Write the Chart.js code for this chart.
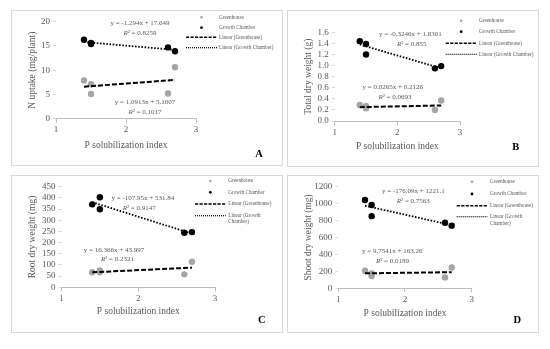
<!DOCTYPE html>
<html>
<head>
<meta charset="utf-8">
<script src="https://cdn.jsdelivr.net/npm/chart.js@4.4.1/dist/chart.umd.min.js"></script>
<style>
body { margin: 0; background: #fff; width: 550px; height: 349px; position: relative; overflow: hidden; }
.panel { position: absolute; border: 1px solid #d9d9d9; box-sizing: border-box; background: #fff; }
.panel canvas { position: absolute; left: 0; top: 0; }
</style>
</head>
<body>
<div class="panel" style="left:11px;top:10px;width:272px;height:156px"><canvas id="cA" width="270" height="154"></canvas></div>
<div class="panel" style="left:287px;top:10px;width:252px;height:157px"><canvas id="cB" width="250" height="155"></canvas></div>
<div class="panel" style="left:11px;top:175px;width:272px;height:158px"><canvas id="cC" width="270" height="156"></canvas></div>
<div class="panel" style="left:287px;top:175px;width:252px;height:158px"><canvas id="cD" width="250" height="156"></canvas></div>
<script>
// P solubilization index of the isolates (same for every panel)
const psiValues = [1.4, 1.5, 1.5, 2.6, 2.7]
const trendX = [1.4, 2.7]
const xTicks = [1, 2, 3]

// A - N uptake (mg/plant)
const nUptakeGreenhouse = [7.9, 7.1, 5.1, 5.2, 10.6]
const nUptakeChamber = [16.3, 15.6, 15.4, 14.7, 13.9]
const nUptakeTrendGreenhouse = [6.6, 8.0]
const nUptakeTrendChamber = [15.8, 14.2]
const nUptakeEq = ['y = 1.0913x + 5.1007', '0.1017', 'y = -1.294x + 17.649', '0.8259']

// B - total dry weight (g)
const totalDryGreenhouse = [0.29, 0.27, 0.23, 0.20, 0.37]
const totalDryChamber = [1.44, 1.39, 1.20, 0.95, 0.99]
const totalDryTrendGreenhouse = [0.25, 0.28]
const totalDryTrendChamber = [1.38, 0.95]
const totalDryEq = ['y = 0.0265x + 0.2126', '0.0693', 'y = -0.3246x + 1.8301', '0.855']

// C - root dry weight (mg)
const rootDryGreenhouse = [67, 75, 67, 58, 114]
const rootDryChamber = [371, 403, 349, 244, 247]
const rootDryTrendGreenhouse = [67, 88]
const rootDryTrendChamber = [381, 240]
const rootDryEq = ['y = 16.366x + 43.997', '0.2321', 'y = -107.95x + 531.84', '0.9147']

// D - shoot dry weight (mg)
const shootDryGreenhouse = [207, 176, 146, 129, 246]
const shootDryChamber = [1043, 983, 852, 774, 740]
const shootDryTrendGreenhouse = [177, 190]
const shootDryTrendChamber = [975, 746]
const shootDryEq = ['y = 9.7541x + 163.26', '0.0189', 'y = -176.09x + 1221.1', '0.7563']

const seriesNames = ['Greenhouse', 'Growth Chamber', 'Linear (Greenhouse)', 'Linear (Growth Chamber)']

const FONT = '"Liberation Serif", "Times New Roman", serif'
const GREY_TXT = '#595959'
const GREY_PT = '#a5a5a5'

const toPts = (xs, ys) => xs.map((x, i) => ({ x: x, y: ys[i] }))

// draws the excel-like legend, trendline labels and panel letter
const overlay = {
    id: 'overlay',
    afterDraw(chart, args, o) {
        const ctx = chart.ctx
        ctx.save()
        ctx.textBaseline = 'middle'

        // legend
        const lg = o.legend
        const mid = (lg.x0 + lg.x1) / 2
        ctx.fillStyle = GREY_PT
        ctx.beginPath(); ctx.arc(mid, lg.rows[0], 1.3, 0, Math.PI * 2); ctx.fill()
        ctx.fillStyle = '#000'
        ctx.beginPath(); ctx.arc(mid, lg.rows[1], 1.4, 0, Math.PI * 2); ctx.fill()
        ctx.strokeStyle = '#000'
        ctx.lineWidth = 1.6
        ctx.setLineDash([3.2, 1.3])
        ctx.beginPath(); ctx.moveTo(lg.x0, lg.rows[2]); ctx.lineTo(lg.x1, lg.rows[2]); ctx.stroke()
        ctx.lineWidth = 1.2
        ctx.setLineDash([1, 1])
        ctx.beginPath(); ctx.moveTo(lg.x0, lg.rows[3]); ctx.lineTo(lg.x1, lg.rows[3]); ctx.stroke()
        ctx.setLineDash([])
        ctx.font = '5.2px ' + FONT
        ctx.fillStyle = GREY_TXT
        ctx.textAlign = 'left'
        seriesNames.forEach((name, i) => {
            if (i == 3 && lg.wrap) {
                ctx.fillText('Linear (Growth', lg.tx, lg.rows[3])
                ctx.fillText('Chamber)', lg.tx, lg.rows[3] + lg.wrap)
            } else {
                ctx.fillText(name, lg.tx, lg.rows[i])
            }
        })

        // trendline equations
        const eq = o.eq
        ctx.textAlign = 'center'
        const drawR2 = (val, x, y) => {
            ctx.font = 'italic 7px ' + FONT
            const wR = ctx.measureText('R').width
            ctx.font = '7px ' + FONT
            const rest = '\u00b2 = ' + val
            const wRest = ctx.measureText(rest).width
            const start = x - (wR + wRest) / 2
            ctx.textAlign = 'left'
            ctx.font = 'italic 7px ' + FONT
            ctx.fillText('R', start, y)
            ctx.font = '7px ' + FONT
            ctx.fillText(rest, start + wR, y)
            ctx.textAlign = 'center'
        }
        ctx.font = '7px ' + FONT
        ctx.fillText(eq.text[0], eq.pos[0][0], eq.pos[0][1])
        drawR2(eq.text[1], eq.pos[1][0], eq.pos[1][1])
        ctx.font = '7px ' + FONT
        ctx.fillText(eq.text[2], eq.pos[2][0], eq.pos[2][1])
        drawR2(eq.text[3], eq.pos[3][0], eq.pos[3][1])

        // panel letter
        ctx.font = 'bold 10.5px ' + FONT
        ctx.fillStyle = '#000'
        ctx.fillText(o.letter.text, o.letter.x, o.letter.y)
        ctx.restore()
    }
}

const makePanel = (p) => {
    const ctx = document.getElementById(p.id).getContext('2d')
    new Chart(ctx, {
        type: 'scatter',
        data: {
            datasets: [
                { data: toPts(trendX, p.trendGH), showLine: true, pointRadius: 0, borderColor: '#000', borderWidth: 2, borderDash: [5, 2], order: 0 },
                { data: toPts(trendX, p.trendGC), showLine: true, pointRadius: 0, borderColor: '#000', borderWidth: 1.8, borderDash: [1.6, 1.6], order: 0 },
                { data: toPts(psiValues, p.gh), pointRadius: 3.2, backgroundColor: GREY_PT, borderColor: GREY_PT, borderWidth: 0, order: 1 },
                { data: toPts(psiValues, p.gc), pointRadius: 3.2, backgroundColor: '#000', borderColor: '#000', borderWidth: 0, order: 1 }
            ]
        },
        options: {
            responsive: false,
            animation: false,
            devicePixelRatio: 1,
            layout: { padding: { left: 0, top: p.padTop, right: p.padRight, bottom: 0 } },
            plugins: {
                legend: { display: false },
                tooltip: { enabled: false },
                overlay: { legend: p.legend, eq: p.eq, letter: p.letter }
            },
            scales: {
                x: {
                    type: 'linear', min: 1, max: 3,
                    afterBuildTicks: (s) => { s.ticks = xTicks.map(v => ({ value: v })) },
                    ticks: { color: GREY_TXT, padding: 2, autoSkip: false, font: { family: FONT, size: 9 } },
                    grid: { display: true, drawOnChartArea: false, drawTicks: true, tickLength: 4, color: '#bfbfbf' },
                    border: { display: true, color: '#bfbfbf' },
                    title: { display: true, text: 'P solubilization index', color: GREY_TXT, font: { family: FONT, size: 9.5 }, padding: { top: 0, bottom: p.xtPad } },
                    afterFit: (s) => { s.height = p.xH }
                },
                y: {
                    type: 'linear', min: 0, max: p.yMax,
                    ticks: { stepSize: p.yStep, color: GREY_TXT, padding: 3, autoSkip: false, font: { family: FONT, size: 9 }, callback: p.fmt },
                    grid: { display: true, drawOnChartArea: false, drawTicks: true, tickLength: 3, color: '#d9d9d9' },
                    border: { display: false },
                    title: { display: true, text: p.yTitle, color: GREY_TXT, font: { family: FONT, size: 9.5 }, padding: { top: p.ytPad, bottom: 0 } },
                    afterFit: (s) => { s.width = p.yW }
                }
            }
        },
        plugins: [overlay]
    })
}

makePanel({
    id: 'cA', gh: nUptakeGreenhouse, gc: nUptakeChamber, trendGH: nUptakeTrendGreenhouse, trendGC: nUptakeTrendChamber,
    yMax: 20, yStep: 5, fmt: (v) => v, yTitle: 'N uptake (mg/plant)',
    yW: 44, xH: 46.3, padTop: 10.7, padRight: 86, ytPad: 15, xtPad: 13.6,
    legend: { x0: 174, x1: 205, tx: 207, rows: [6.3, 16.7, 26.3, 36.7] },
    eq: { text: nUptakeEq, pos: [[133, 90.7], [133, 100.7], [128, 12.3], [128, 22.3]] },
    letter: { text: 'A', x: 247, y: 143 }
})

makePanel({
    id: 'cB', gh: totalDryGreenhouse, gc: totalDryChamber, trendGH: totalDryTrendGreenhouse, trendGC: totalDryTrendChamber,
    yMax: 1.6, yStep: 0.2, fmt: (v) => v.toFixed(1), yTitle: 'Total dry weight (g)',
    yW: 46.7, xH: 45, padTop: 21.3, padRight: 78, ytPad: 14.5, xtPad: 14.3,
    legend: { x0: 157.7, x1: 188.7, tx: 191, rows: [9.7, 20.7, 32.3, 43.3] },
    eq: { text: totalDryEq, pos: [[104.8, 76.3], [107, 85.7], [122.3, 23.3], [123.7, 33.3]] },
    letter: { text: 'B', x: 227.7, y: 136.7 }
})

makePanel({
    id: 'cC', gh: rootDryGreenhouse, gc: rootDryChamber, trendGH: rootDryTrendGreenhouse, trendGC: rootDryTrendChamber,
    yMax: 450, yStep: 50, fmt: (v) => v, yTitle: 'Root dry weight (mg)',
    yW: 49.5, xH: 44.7, padTop: 10.7, padRight: 67, ytPad: 15, xtPad: 14.6,
    legend: { x0: 183, x1: 213.7, tx: 216.3, rows: [5, 16.3, 28, 39.7], wrap: 6 },
    eq: { text: rootDryEq, pos: [[102, 74], [105.5, 83.3], [130.8, 21.7], [127.2, 32.3]] },
    letter: { text: 'C', x: 249.7, y: 144 }
})

makePanel({
    id: 'cD', gh: shootDryGreenhouse, gc: shootDryChamber, trendGH: shootDryTrendGreenhouse, trendGC: shootDryTrendChamber,
    yMax: 1200, yStep: 200, fmt: (v) => v, yTitle: 'Shoot dry weight (mg)',
    yW: 50.3, xH: 43.7, padTop: 10.7, padRight: 66.3, ytPad: 14.6, xtPad: 13,
    legend: { x0: 168.7, x1: 199.3, tx: 202, rows: [5.7, 18, 29.7, 40.7], wrap: 6.6 },
    eq: { text: shootDryEq, pos: [[104.3, 75], [104.5, 84.7], [125.3, 14.7], [125.3, 24.7]] },
    letter: { text: 'D', x: 229.3, y: 144 }
})
</script>
</body>
</html>
